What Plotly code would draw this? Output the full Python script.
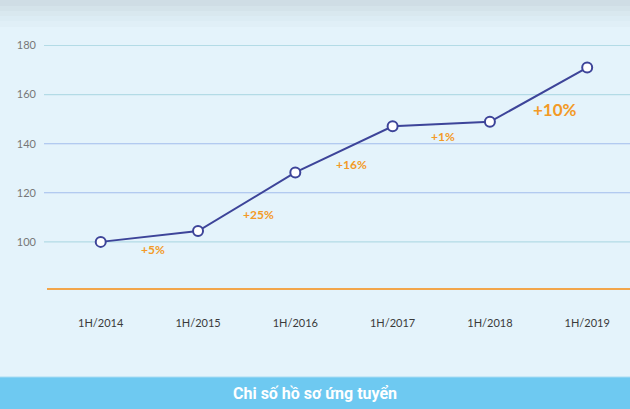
import plotly.graph_objects as go

categories = ["1H/2014", "1H/2015", "1H/2016", "1H/2017", "1H/2018", "1H/2019"]
values = [100, 104.4, 128.3, 147.1, 148.9, 171.0]
growth_labels = ["+5%", "+25%", "+16%", "+1%", "+10%"]
y_ticks = [100, 120, 140, 160, 180]
title_text = "Chi số hồ sơ ứng tuyển"

W, H = 630, 409
L, R, T, B = 44, 0, 20, 120
plot_w = W - L - R
plot_h = H - T - B

def px_x(p):
    return (p - L) / plot_w

def px_y(p):
    return (H - B - p) / plot_h

fig = go.Figure()

fig.add_trace(go.Scatter(
    x=categories, y=values, mode="lines+markers",
    line=dict(color="#3d4499", width=2),
    marker=dict(size=10, color="white", line=dict(color="#3d4499", width=2)),
    hoverinfo="skip", showlegend=False, cliponaxis=False,
))

shapes = []
# top gradient
grad = [("#cfdde5", 0, 6), ("#d4e3ea", 6, 11), ("#d9e8ef", 11, 16), ("#dcecf4", 16, 21), ("#e0eff7", 21, 27)]
for col, a, b in grad:
    shapes.append(dict(type="rect", xref="paper", yref="paper", x0=px_x(0), x1=px_x(W),
                       y0=px_y(b), y1=px_y(a), fillcolor=col, line=dict(width=0), layer="below"))
# gridlines
grid_colors = {100: "#b3dbe6", 120: "#a2bdec", 140: "#a2bdec", 160: "#b3dbe6", 180: "#b3dbe6"}
for v in y_ticks:
    shapes.append(dict(type="line", xref="paper", yref="y", x0=0, x1=1, y0=v, y1=v,
                       line=dict(color=grid_colors[v], width=1.1), layer="below"))
# orange baseline
shapes.append(dict(type="line", xref="paper", yref="paper", x0=px_x(47), x1=1, y0=0, y1=0,
                   line=dict(color="#f2a54a", width=1.8), layer="below"))
# bottom banner
shapes.append(dict(type="rect", xref="paper", yref="paper", x0=px_x(0), x1=px_x(W),
                   y0=px_y(H), y1=px_y(377), fillcolor="#6ec9f1", line=dict(width=0), layer="below"))
shapes.append(dict(type="line", xref="paper", yref="paper", x0=px_x(0), x1=px_x(W),
                   y0=px_y(377), y1=px_y(377), line=dict(color="#a8dcf3", width=1), layer="below"))

annotations = []
label_pos = [(153, 249, 12), (258, 214, 12), (351, 164, 12), (443, 136, 12), (555, 110, 17)]
for txt, (lx, ly, fs) in zip(growth_labels, label_pos):
    annotations.append(dict(text="<b>%s</b>" % txt, xref="paper", yref="paper",
                            x=px_x(lx), y=px_y(ly), showarrow=False,
                            font=dict(family="Lato", size=fs, color="#f39a26"),
                            xanchor="center", yanchor="middle"))
annotations.append(dict(text="<b>%s</b>" % title_text, xref="paper", yref="paper",
                        x=px_x(W / 2), y=px_y(393), showarrow=False,
                        font=dict(family="Roboto", size=16, color="white"),
                        xanchor="center", yanchor="middle"))

fig.update_layout(
    width=W, height=H,
    margin=dict(l=L, r=R, t=T, b=B, pad=0),
    paper_bgcolor="#e4f3fb", plot_bgcolor="rgba(0,0,0,0)",
    shapes=shapes, annotations=annotations,
    xaxis=dict(range=[-0.583, 5.44], showgrid=False, zeroline=False, showline=False,
               tickfont=dict(family="Lato", size=11, color="#3a3a3a"),
               ticks="", ticklabelstandoff=26, fixedrange=True),
    yaxis=dict(range=[80.8, 190.4], tickvals=y_ticks, showgrid=False, zeroline=False,
               showline=False, tickfont=dict(family="Lato", size=11, color="#777777"),
               ticklabelstandoff=7, fixedrange=True),
)

fig.write_html("out.html")
